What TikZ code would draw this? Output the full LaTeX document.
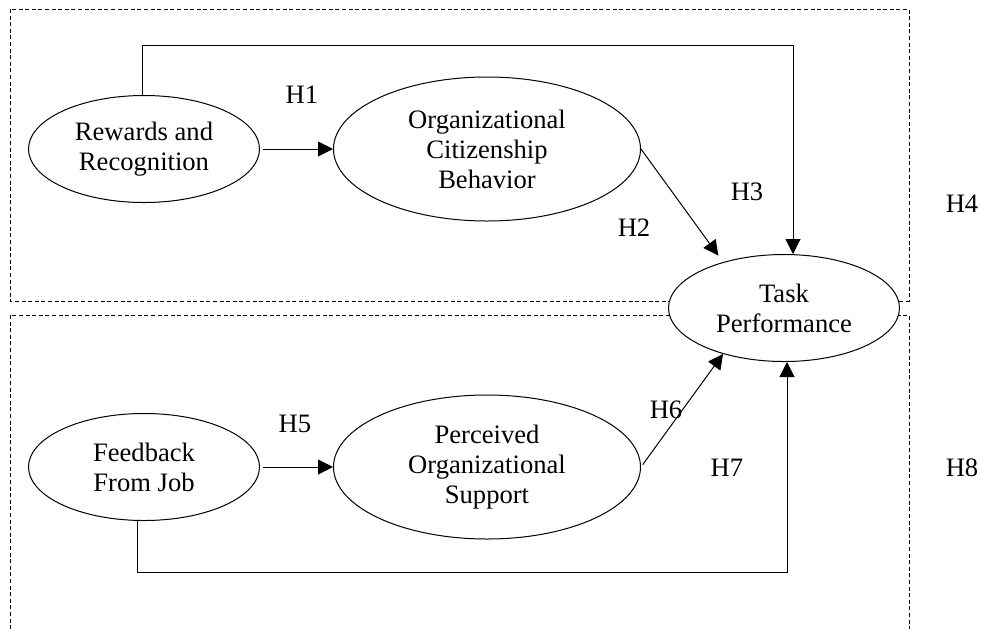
\documentclass[tikz,border=0pt]{standalone}
\usepackage{fontspec}
\setmainfont{Liberation Serif}
\usetikzlibrary{positioning,arrows.meta,shapes.geometric}

\tikzset{
  construct/.style={draw, ellipse, align=center, inner sep=0pt, line width=0.5pt,
    fill=white, font=\fontsize{13.3}{15}\selectfont},
  small/.style={minimum width=115.5pt, minimum height=53.5pt},
  large/.style={minimum width=153.5pt, minimum height=72pt},
  hyp/.style={inner sep=0pt, font=\fontsize{13.3}{15}\selectfont},
  link/.style={-{Triangle[length=7.5pt,width=7.5pt]}, line width=0.5pt},
  panel/.style={line width=0.5pt, dash pattern=on 2pt off 1.3pt}
}

\begin{document}
\begin{tikzpicture}[x=0.5pt,y=-0.5pt]
  \useasboundingbox (0,0) rectangle (981,628);
  % the two dashed groups
  \draw[panel] (10,9) rectangle (909,301);
  \draw[panel] (10,315) rectangle (909,660);

  \node[construct, small] (rr) at (144,149) {Rewards and\\Recognition};
  \node[construct, large, right=36.5pt of rr] (ocb) {Organizational\\Citizenship\\Behavior};
  \node[construct, small] (tp) at (784,308) {Task\\Performance};
  \node[construct, small] (fb) at (144,467) {Feedback\\From Job};
  \node[construct, large, right=36.5pt of fb] (pos) {Perceived\\Organizational\\Support};

  \coordinate (rrbend) at (793,45);
  \coordinate (fbbend) at (787,572);

  \node[hyp] (h1) at (302,95) {H1};
  \node[hyp] (h2) at (634,228) {H2};
  \node[hyp] (h3) at (747,192) {H3};
  \node[hyp] (h4) at (962,204) {H4};
  \node[hyp] (h5) at (295,424) {H5};
  \node[hyp] (h6) at (666,410) {H6};
  \node[hyp] (h7) at (727,468) {H7};
  \node[hyp] (h8) at (962,468) {H8};

  \draw[link, shorten <=1.5pt] (rr.east) -- (ocb.west);
  \draw[link] ([xshift=-1pt]rr.north) |- (rrbend) -- (rrbend |- tp.north);
  \draw[link, shorten >=4pt] (ocb.east) -- (tp.143);
  \draw[link, shorten <=1.5pt] (fb.east) -- (pos.west);
  \draw[link, shorten <=1.5pt] (pos.east) -- (tp.217);
  \draw[link] ([xshift=-3.5pt]fb.south) |- (fbbend) -- (fbbend |- tp.south);
\end{tikzpicture}
\end{document}
